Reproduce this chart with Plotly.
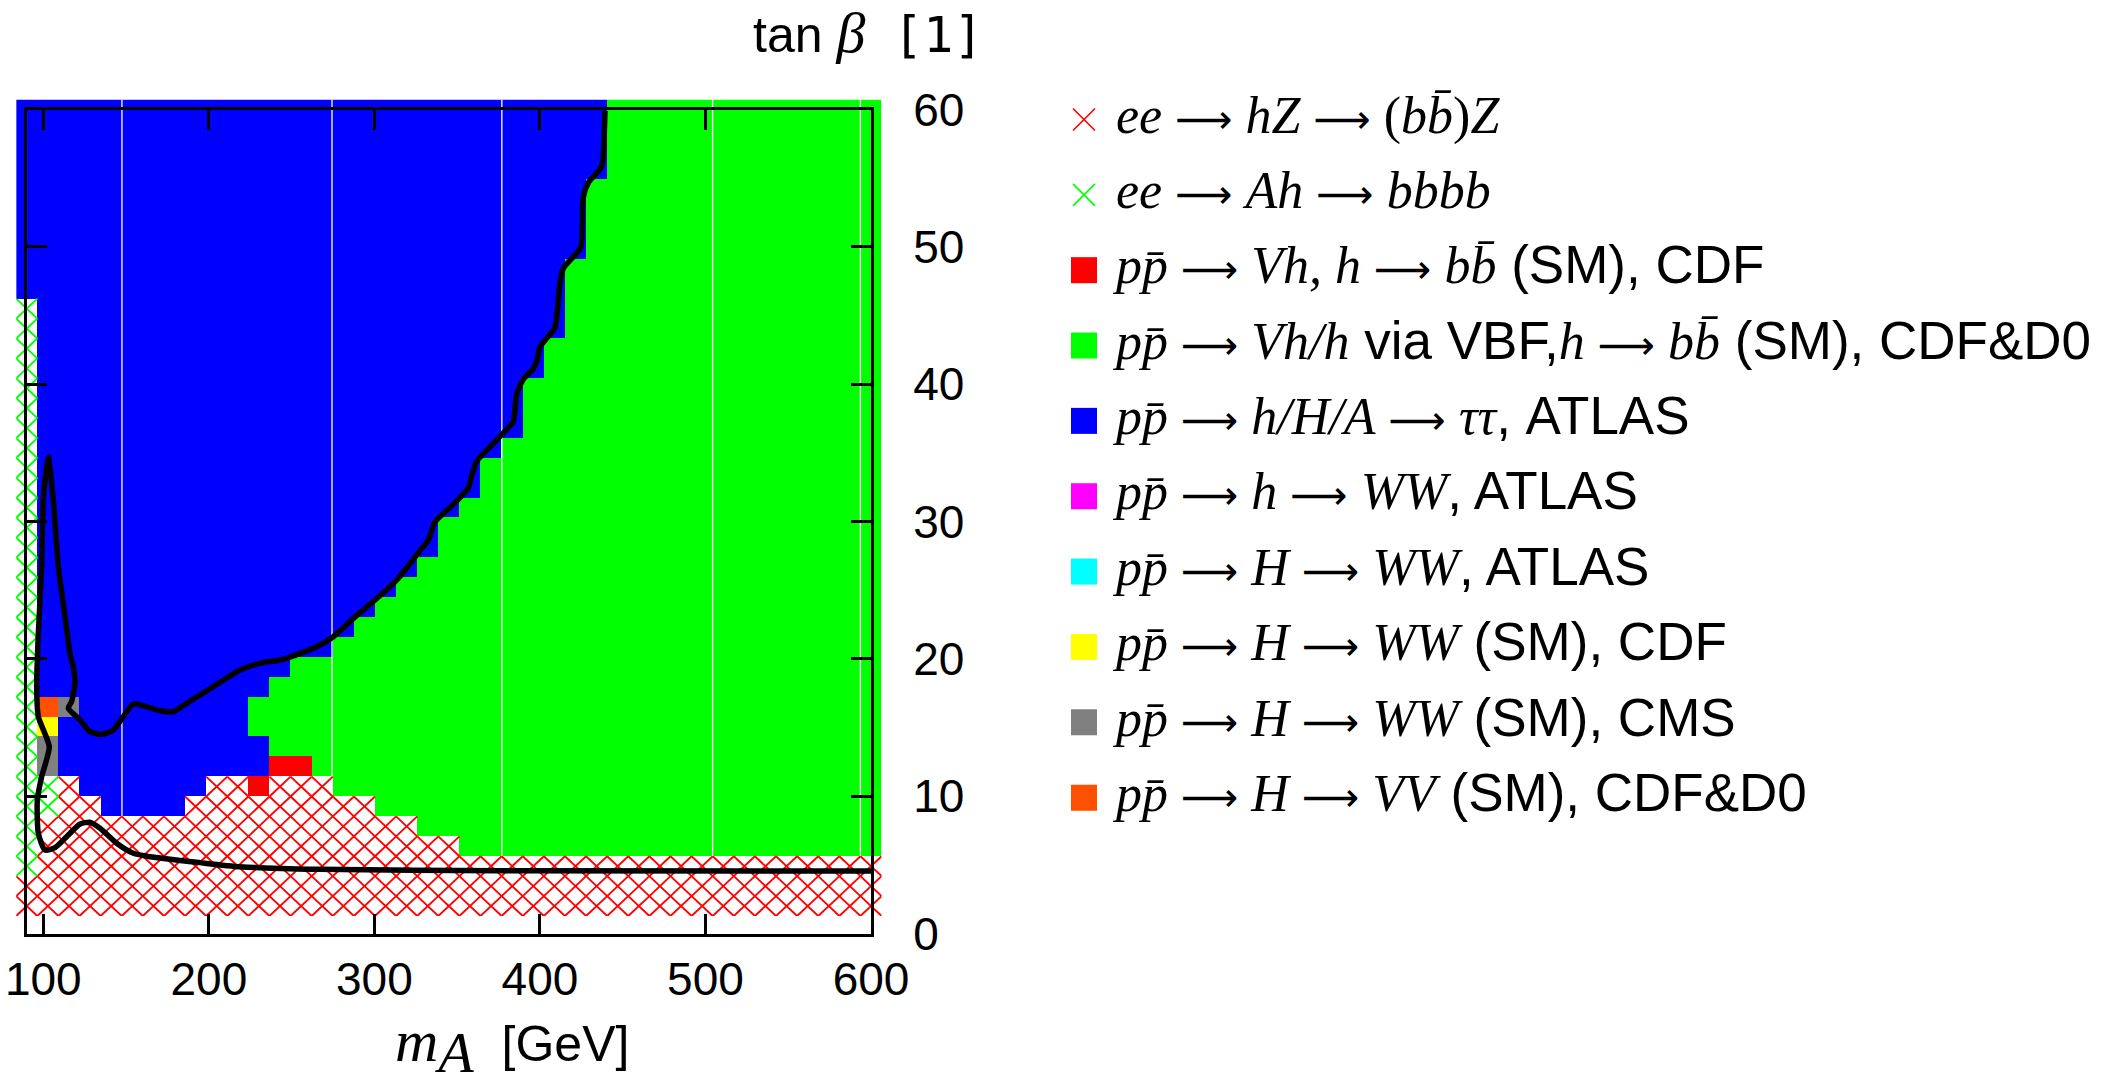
import plotly.graph_objects as go

# ---------------- data ----------------
# grid centres (m_A in GeV, tan beta)
m_A = [90.0, 102.75, 115.5, 128.25, 141.0, 153.75, 166.5, 179.25, 192.0, 204.75,
       217.5, 230.25, 243.0, 255.75, 268.5, 281.25, 294.0, 306.75, 319.5, 332.25,
       345.0, 357.75, 370.5, 383.25, 396.0, 408.75, 421.5, 434.25, 447.0, 459.75,
       472.5, 485.25, 498.0, 510.75, 523.5, 536.25, 549.0, 561.75, 574.5, 587.25, 600.0]
tan_beta = [2.0, 3.45, 4.9, 6.35, 7.8, 9.25, 10.7, 12.15, 13.6, 15.05,
            16.5, 17.95, 19.4, 20.85, 22.3, 23.75, 25.2, 26.65, 28.1, 29.55,
            31.0, 32.45, 33.9, 35.35, 36.8, 38.25, 39.7, 41.15, 42.6, 44.05,
            45.5, 46.95, 48.4, 49.85, 51.3, 52.75, 54.2, 55.65, 57.1, 58.55, 60.0]

# most sensitive channel per cell, run-length coded, rows from tan_beta = 60 down to 2
# R:Vh->bb CDF  G:VBF CDF&D0  B:tautau ATLAS  Y:WW CDF  K:WW CMS  O:VV CDF&D0
# '.': LEP hZ excluded (red hatch)   'g': LEP Ah excluded (green hatch)
channel_rows = [
    "B28 G13", "B28 G13", "B28 G13", "B28 G13",
    "B27 G14", "B27 G14", "B27 G14", "B27 G14",
    "B26 G15", "B26 G15",
    "g1 B25 G15", "g1 B25 G15",
    "g1 B24 G16", "g1 B24 G16",
    "g1 B23 G17", "g1 B23 G17", "g1 B23 G17",
    "g1 B22 G18",
    "g1 B21 G19", "g1 B21 G19",
    "g1 B20 G20",
    "g1 B19 G21", "g1 B19 G21",
    "g1 B18 G22",
    "g1 B17 G23",
    "g1 B16 G24",
    "g1 B15 G25",
    "g1 B14 G26",
    "g1 B12 G28",
    "g1 B11 G29",
    "g1 O1 K1 B8 G30",
    "g1 Y1 B9 G30",
    "g1 K1 B10 G29",
    "g1 K1 B10 R2 G27",
    "g2 .1 B6 .2 R1 .3 G26",
    "g2 .2 B4 .9 G24",
    "g1 .18 G22",
    "g1 .20 G20",
    "g1 .40",
    ".41",
    ".41",
]

channel_codes = ["R", "G", "B", "M", "C", "Y", "K", "O"]
channel_colors = ["#ff0000", "#00ff00", "#0000ff", "#ff00ff", "#00ffff",
                  "#ffff00", "#808080", "#ff5000"]
hatch_codes = [".", "g"]
hatch_colors = ["#ff0000", "#00ff00"]

# exclusion contour (m_A, tan beta)
contour_mA = [439.3, 437.9, 436.3, 429.2, 426.2, 424.8, 421.2, 414.1, 412.1, 409.1,
              405.1, 400.0, 398.0, 396.0, 390.0, 386.0, 383.9, 380.9, 371.8, 361.8,
              358.8, 356.7, 347.7, 336.6, 332.6, 327.5, 313.5, 300.4, 287.3, 275.2,
              265.2, 245.0, 230.9, 218.8, 202.7, 186.6, 178.5, 170.5, 154.4, 148.3,
              142.3, 135.3, 128.2, 122.2, 115.1, 117.1, 119.1, 118.5, 116.1, 113.1,
              109.1, 106.0, 103.0, 100.0, 99.0, 97.0, 96.0, 97.0, 103.6, 99.0,
              96.4, 97.0, 101.0, 107.1, 114.1, 122.2, 128.2, 134.3, 144.3, 154.4,
              164.5, 194.7, 218.8, 265.2, 376.0, 600.0]
contour_tb = [59.9, 56.2, 55.65, 54.66, 53.62, 49.98, 49.41, 48.42, 47.37, 44.13,
              43.48, 42.7, 41.66, 41.14, 40.36, 39.31, 37.24, 36.84, 35.67, 34.38,
              33.34, 32.43, 31.25, 29.96, 28.65, 27.87, 25.74, 24.28, 22.95, 21.61,
              20.88, 19.97, 19.67, 19.19, 17.97, 16.76, 16.15, 16.22, 16.71, 15.79,
              14.82, 14.5, 14.7, 15.55, 16.4, 16.9, 18.2, 19.19, 20.4, 23.07,
              26.7, 31.57, 34.72, 31.57, 26.7, 21.86, 17.97, 15.79, 13.6, 11.42,
              9.72, 7.3, 6.08, 6.25, 7.05, 7.97, 8.1, 7.66, 6.57, 5.84,
              5.59, 5.16, 4.86, 4.67, 4.57, 4.55]

# rendering seams visible in the original bitmap (m_A positions)
seam_mA = [147.5, 274.4, 377.0, 504.3, 593.6]

x_ticks = [100, 200, 300, 400, 500, 600]
y_ticks = [0, 10, 20, 30, 40, 50, 60]

# ---------------- decode map ----------------
def decode(row):
    out = []
    for tok in row.split():
        out.extend([tok[0]] * int(tok[1:]))
    assert len(out) == len(m_A), row
    return out

grid = [decode(r) for r in reversed(channel_rows)]  # index 0 -> tan_beta[0]
assert len(grid) == len(tan_beta)

z = [[channel_codes.index(c) + 1 if c in channel_codes else None for c in row] for row in grid]

n = len(channel_codes)
colorscale = []
for k, col in enumerate(channel_colors):
    colorscale.append([k / n, col])
    colorscale.append([(k + 1) / n, col])

dx = m_A[1] - m_A[0]
dy = tan_beta[1] - tan_beta[0]

def hatch(ch):
    xs, ys = [], []
    for j, row in enumerate(grid):
        for i, c in enumerate(row):
            if c == ch:
                xc, yc = m_A[i], tan_beta[j]
                xs += [xc - dx / 2, xc + dx / 2, None, xc - dx / 2, xc + dx / 2, None]
                ys += [yc - dy / 2, yc + dy / 2, None, yc + dy / 2, yc - dy / 2, None]
    return xs, ys

# ---------------- layout geometry (pixels) ----------------
W, H = 2127, 1083
FX0, FX1 = 26.75, 871.0     # frame: m_A = 90 .. 600
FY0, FY1 = 933.5, 109.5     # frame: tan beta = 0 .. 60
XF = [90, 600]
YF = [0, 60]
sx = (FX1 - FX0) / (XF[1] - XF[0])
sy = (FY0 - FY1) / (YF[1] - YF[0])

xr = [m_A[0] - dx / 2, m_A[-1] + dx / 2]
yr = [tan_beta[0] - dy / 2, tan_beta[-1] + dy / 2]
xdom = [(FX0 + (v - XF[0]) * sx) / W for v in xr]
ydom = [1 - (FY0 - (v - YF[0]) * sy) / H for v in yr]
fxdom = [FX0 / W, FX1 / W]
fydom = [1 - FY0 / H, 1 - FY1 / H]

SANS = "Liberation Sans"
SERIF = "Liberation Serif"
MONO = "DejaVu Sans Mono"
ARROWF = "DejaVu Sans"
MATH_SIZE = 52

def mi(s, size=MATH_SIZE):
    return f"<span style='font-family:{SERIF};font-size:{size}px'><i>{s}</i></span>"

def mr(s, size=MATH_SIZE):
    return f"<span style='font-family:{SERIF};font-size:{size}px'>{s}</span>"

AR = (mr("\u00a0") + f"<span style='font-family:{ARROWF};font-size:40px'>\u27f6</span>"
      + mr("\u00a0"))
pb = "pp\u0304"
bb = "bb\u0304"
legend_labels = [
    mi("ee") + AR + mi("hZ") + AR + mr("(") + mi(bb) + mr(")") + mi("Z"),
    mi("ee") + AR + mi("Ah") + AR + mi("bbbb"),
    mi(pb) + AR + mi("Vh, h") + AR + mi(bb) + " (SM), CDF",
    mi(pb) + AR + mi("Vh/h") + " via VBF," + mi("h") + AR + mi(bb) + " (SM), CDF&amp;D0",
    mi(pb) + AR + mi("h/H/A") + AR + mi("\u03c4\u03c4") + ", ATLAS",
    mi(pb) + AR + mi("h") + AR + mi("WW") + ", ATLAS",
    mi(pb) + AR + mi("H") + AR + mi("WW") + ", ATLAS",
    mi(pb) + AR + mi("H") + AR + mi("WW") + " (SM), CDF",
    mi(pb) + AR + mi("H") + AR + mi("WW") + " (SM), CMS",
    mi(pb) + AR + mi("H") + AR + mi("VV") + " (SM), CDF&amp;D0",
]
legend_colors = hatch_colors + channel_colors
legend_symbols = ["x-thin"] * len(hatch_colors) + ["square"] * len(channel_colors)

fig = go.Figure()

# cells
fig.add_trace(go.Heatmap(
    x=m_A, y=tan_beta, z=z, colorscale=colorscale, zmin=0.5, zmax=n + 0.5,
    showscale=False, hoverinfo="skip", xaxis="x", yaxis="y"))

# seams
sx_l, sy_l = [], []
for s in seam_mA:
    sx_l += [s, s, None]
    sy_l += [yr[0], yr[1], None]
fig.add_trace(go.Scatter(x=sx_l, y=sy_l, mode="lines", line=dict(color="white", width=1.3),
                         hoverinfo="skip", showlegend=False, xaxis="x", yaxis="y"))

# hatches
for ch, col in zip(hatch_codes, hatch_colors):
    hx, hy = hatch(ch)
    fig.add_trace(go.Scatter(x=hx, y=hy, mode="lines", line=dict(color=col, width=1.9),
                             hoverinfo="skip", showlegend=False, xaxis="x", yaxis="y"))

# contour
fig.add_trace(go.Scatter(x=contour_mA, y=contour_tb, mode="lines",
                         line=dict(color="black", width=5.5, shape="spline", smoothing=0.6),
                         hoverinfo="skip", showlegend=False, xaxis="x2", yaxis="y2"))

# legend (drawn on its own hidden axes, x in pixels, y = item index)
LX0 = 1040
item_idx = list(range(len(legend_labels)))
for k in item_idx:
    if legend_symbols[k] == "x-thin":
        mk = dict(symbol="x-thin", size=22, line=dict(color=legend_colors[k], width=1.6),
                  color=legend_colors[k])
    else:
        mk = dict(symbol="square", size=26, color=legend_colors[k], line=dict(width=0))
    fig.add_trace(go.Scatter(x=[1084], y=[k], mode="markers", marker=mk,
                             hoverinfo="skip", showlegend=False, xaxis="x3", yaxis="y3"))
fig.add_trace(go.Scatter(x=[1116] * len(legend_labels), y=item_idx, mode="text",
                         text=legend_labels, textposition="middle right",
                         textfont=dict(family=SANS, size=53, color="black"),
                         hoverinfo="skip", showlegend=False, xaxis="x3", yaxis="y3"))

axis_common = dict(showgrid=False, zeroline=False, fixedrange=True, automargin=False)
frame_common = dict(showline=True, linewidth=3, linecolor="black", mirror="ticks",
                    ticks="inside", ticklen=20, tickwidth=3, tickcolor="black",
                    tickfont=dict(family=SANS, size=46, color="black"))

fig.update_layout(
    width=W, height=H, autosize=False,
    margin=dict(l=0, r=0, t=0, b=0, pad=0, autoexpand=False),
    paper_bgcolor="white", plot_bgcolor="rgba(0,0,0,0)",
    showlegend=False,
    xaxis=dict(domain=xdom, range=xr, visible=False, anchor="y", **axis_common),
    yaxis=dict(domain=ydom, range=yr, visible=False, anchor="x", **axis_common),
    xaxis2=dict(domain=fxdom, range=XF, anchor="y2", tickvals=x_ticks,
                ticklabelstandoff=3, **frame_common, **axis_common),
    yaxis2=dict(domain=fydom, range=YF, anchor="x2", side="right", tickvals=y_ticks,
                ticklabelstandoff=30, **frame_common, **axis_common),
    xaxis3=dict(domain=[LX0 / W, 1], range=[LX0, W], visible=False, anchor="y3", **axis_common),
    yaxis3=dict(domain=[1 - 835.3 / H, 1 - 81.8 / H], range=[len(legend_labels) - 0.5, -0.5],
                visible=False, anchor="x3", **axis_common),
    annotations=[
        dict(text="tan " + mi("\u03b2", 58) + "  <span style='font-family:" + MONO + "'>[1]</span>",
             xref="paper", yref="paper",
             x=868 / W, y=1 - 32 / H, xanchor="center", yanchor="middle", showarrow=False,
             font=dict(family=SANS, size=50, color="black")),
        dict(text=mi("m", 60) + "<sub>" + mi("A", 58) + "</sub>  [GeV]", xref="paper", yref="paper",
             x=512 / W, y=1 - 1046 / H, xanchor="center", yanchor="middle", showarrow=False,
             font=dict(family=SANS, size=50, color="black")),
    ],
)

fig.write_html("out.html", post_script="document.body.style.margin='0';")
